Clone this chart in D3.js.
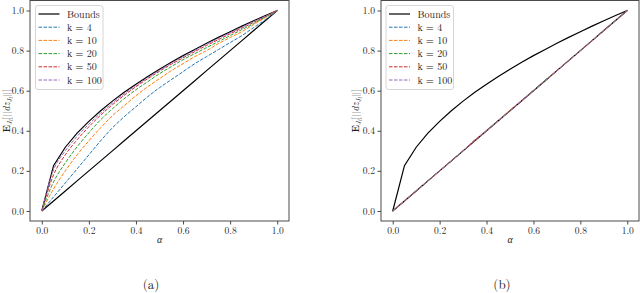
<!DOCTYPE html>
<html>
<head>
<meta charset="utf-8">
<script src="https://cdn.jsdelivr.net/npm/d3@7"></script>
<style>
  html, body { margin: 0; padding: 0; background: #fff; }
  svg { display: block; }
  text { font-family: "Latin Modern Roman", "Liberation Serif", serif; fill: #222; }
</style>
</head>
<body>
<svg id="chart" width="640" height="293"></svg>
<script>
// ---------------- data ----------------
const alpha = [0, 0.05, 0.10, 0.15, 0.20, 0.25, 0.30, 0.35, 0.40, 0.45, 0.50,
               0.55, 0.60, 0.65, 0.70, 0.75, 0.80, 0.85, 0.90, 0.95, 1.00];

const boundUpper = [0, 0.226, 0.318, 0.388, 0.447, 0.5, 0.548, 0.592, 0.632, 0.671, 0.707,
                    0.742, 0.775, 0.806, 0.837, 0.866, 0.894, 0.922, 0.949, 0.975, 1.00];
const boundLower = [0, 0.05, 0.10, 0.15, 0.20, 0.25, 0.30, 0.35, 0.40, 0.45, 0.50,
                    0.55, 0.60, 0.65, 0.70, 0.75, 0.80, 0.85, 0.90, 0.95, 1.00];

// panel (a)
const leftK4   = [0, 0.07, 0.14, 0.21, 0.28, 0.35, 0.415, 0.47, 0.52, 0.57, 0.615,
                  0.655, 0.695, 0.735, 0.77, 0.805, 0.84, 0.875, 0.915, 0.955, 1.00];
const leftK10  = [0, 0.11, 0.20, 0.28, 0.35, 0.415, 0.475, 0.525, 0.575, 0.62, 0.66,
                  0.70, 0.735, 0.77, 0.80, 0.835, 0.865, 0.895, 0.93, 0.965, 1.00];
const leftK20  = [0, 0.145, 0.24, 0.32, 0.39, 0.455, 0.51, 0.56, 0.605, 0.645, 0.685,
                  0.72, 0.755, 0.785, 0.815, 0.845, 0.875, 0.905, 0.935, 0.968, 1.00];
const leftK50  = [0, 0.18, 0.28, 0.355, 0.42, 0.478, 0.53, 0.577, 0.62, 0.66, 0.697,
                  0.732, 0.764, 0.795, 0.826, 0.855, 0.884, 0.912, 0.941, 0.97, 1.00];
const leftK100 = [0, 0.205, 0.30, 0.372, 0.433, 0.488, 0.538, 0.584, 0.626, 0.665, 0.702,
                  0.737, 0.77, 0.801, 0.832, 0.861, 0.889, 0.917, 0.945, 0.972, 1.00];

// panel (b)
const rightK4   = [0, 0.05, 0.10, 0.15, 0.20, 0.25, 0.30, 0.35, 0.40, 0.45, 0.50,
                   0.55, 0.60, 0.65, 0.70, 0.75, 0.80, 0.85, 0.90, 0.95, 1.00];
const rightK10  = [0, 0.05, 0.10, 0.15, 0.20, 0.25, 0.30, 0.355, 0.40, 0.45, 0.503,
                   0.55, 0.60, 0.65, 0.70, 0.75, 0.80, 0.85, 0.90, 0.95, 1.00];
const rightK20  = [0, 0.05, 0.10, 0.15, 0.20, 0.25, 0.30, 0.35, 0.40, 0.45, 0.50,
                   0.55, 0.60, 0.653, 0.70, 0.75, 0.80, 0.85, 0.90, 0.95, 1.00];
const rightK50  = [0, 0.05, 0.10, 0.15, 0.20, 0.25, 0.30, 0.35, 0.40, 0.45, 0.50,
                   0.55, 0.60, 0.65, 0.70, 0.75, 0.80, 0.85, 0.90, 0.95, 1.00];
const rightK100 = [0, 0.05, 0.10, 0.15, 0.20, 0.25, 0.30, 0.355, 0.40, 0.45, 0.50,
                   0.55, 0.60, 0.65, 0.70, 0.75, 0.80, 0.85, 0.90, 0.95, 1.00];

const kLabels = ["k = 4", "k = 10", "k = 20", "k = 50", "k = 100"];
const boundsLabel = "Bounds";
const kColors = ["#1f77b4", "#ff7f0e", "#2ca02c", "#d62728", "#9467bd"];
const xTicks = [0.0, 0.2, 0.4, 0.6, 0.8, 1.0];
const yTicks = [0.0, 0.2, 0.4, 0.6, 0.8, 1.0];
const captions = ["(a)", "(b)"];

// ---------------- drawing ----------------
const svg = d3.select("#chart");
const spineColor = "#4a4a4a";
const FONT = "Latin Modern Roman, Liberation Serif, serif";

function drawPanel(opt) {
  const x = d3.scaleLinear().domain([-0.05, 1.05]).range([opt.left, opt.right]);
  const y = d3.scaleLinear().domain([-0.05, 1.05]).range([opt.bottom, opt.top]);
  const g = svg.append("g");

  const line = d3.line().x((d, i) => x(alpha[i])).y(d => y(d));
  const smooth = d3.line().x((d, i) => x(alpha[i])).y(d => y(d)).curve(d3.curveMonotoneX);

  // bounds
  [boundUpper, boundLower].forEach(arr => {
    g.append("path").datum(arr).attr("d", line)
      .attr("fill", "none").attr("stroke", "#000").attr("stroke-width", 1.2);
  });
  // k series
  opt.series.forEach((arr, j) => {
    g.append("path").datum(arr).attr("d", smooth)
      .attr("fill", "none").attr("stroke", kColors[j]).attr("stroke-width", 1)
      .attr("stroke-dasharray", "3.5,1.5");
  });

  // frame
  g.append("rect").attr("x", opt.left).attr("y", opt.top)
    .attr("width", opt.right - opt.left).attr("height", opt.bottom - opt.top)
    .attr("fill", "none").attr("stroke", spineColor).attr("stroke-width", 1);

  // x axis
  const xa = g.append("g").attr("transform", `translate(0,${opt.bottom})`)
    .call(d3.axisBottom(x).tickValues(xTicks).tickFormat(d3.format(".1f"))
      .tickSize(3.5).tickPadding(2.5));
  xa.attr("font-family", FONT);
  xa.select(".domain").remove();
  xa.selectAll("line").attr("stroke", spineColor);
  xa.selectAll("text").attr("font-size", 9.5).attr("fill", "#222");

  // y axis
  const ya = g.append("g").attr("transform", `translate(${opt.left},0)`)
    .call(d3.axisLeft(y).tickValues(yTicks).tickFormat(d3.format(".1f"))
      .tickSize(3.5).tickPadding(2.5));
  ya.attr("font-family", FONT);
  ya.select(".domain").remove();
  ya.selectAll("line").attr("stroke", spineColor);
  ya.selectAll("text").attr("font-size", 9.5).attr("fill", "#222");

  // x label
  g.append("text").attr("x", (opt.left + opt.right) / 2).attr("y", 243)
    .attr("text-anchor", "middle").attr("font-size", 10).attr("font-style", "italic")
    .text("α");

  // y label
  const yl = g.append("text")
    .attr("transform", `translate(${opt.ylabelX},${(opt.top + opt.bottom) / 2}) rotate(-90)`)
    .attr("text-anchor", "middle").attr("font-size", 10);
  yl.append("tspan").attr("font-weight", "bold").text("E");
  yl.append("tspan").attr("font-style", "italic").attr("font-size", 7).attr("dy", 2).text("J");
  yl.append("tspan").attr("font-style", "italic").attr("font-size", 5.5).attr("dy", 1).text("l");
  yl.append("tspan").attr("dy", -3).text("[||");
  yl.append("tspan").attr("font-style", "italic").text("dz");
  yl.append("tspan").attr("font-style", "italic").attr("font-size", 7).attr("dy", 2).text("J");
  yl.append("tspan").attr("font-style", "italic").attr("font-size", 5.5).attr("dy", 1).text("l");
  yl.append("tspan").attr("dy", -3).text("||]");

  // legend
  const lg = g.append("g");
  lg.append("rect").attr("x", opt.legX).attr("y", 5.5).attr("width", 67.5).attr("height", 84)
    .attr("rx", 2.5).attr("fill", "rgba(255,255,255,0.85)").attr("stroke", "#d6d6d6").attr("stroke-width", 1);
  const labels = [boundsLabel].concat(kLabels);
  labels.forEach((lab, i) => {
    const yy = 14 + i * 13.2;
    const ln = lg.append("line").attr("x1", opt.legX + 3).attr("x2", opt.legX + 24)
      .attr("y1", yy).attr("y2", yy);
    if (i === 0) {
      ln.attr("stroke", "#000").attr("stroke-width", 1.2);
    } else {
      ln.attr("stroke", kColors[i - 1]).attr("stroke-width", 1).attr("stroke-dasharray", "3.5,1.5");
    }
    lg.append("text").attr("x", opt.legX + 31.5).attr("y", yy + 3.5)
      .attr("font-size", 10).text(lab);
  });

  // caption
  g.append("text").attr("x", opt.capX).attr("y", 289)
    .attr("text-anchor", "middle").attr("font-size", 13).text(opt.caption);
}

drawPanel({ left: 30, right: 289, top: 0.5, bottom: 221, ylabelX: 10, legX: 35.5,
            capX: 151, caption: captions[0],
            series: [leftK4, leftK10, leftK20, leftK50, leftK100] });
drawPanel({ left: 381, right: 639, top: 0.5, bottom: 221, ylabelX: 359, legX: 386,
            capX: 502, caption: captions[1],
            series: [rightK4, rightK10, rightK20, rightK50, rightK100] });
</script>
</body>
</html>
